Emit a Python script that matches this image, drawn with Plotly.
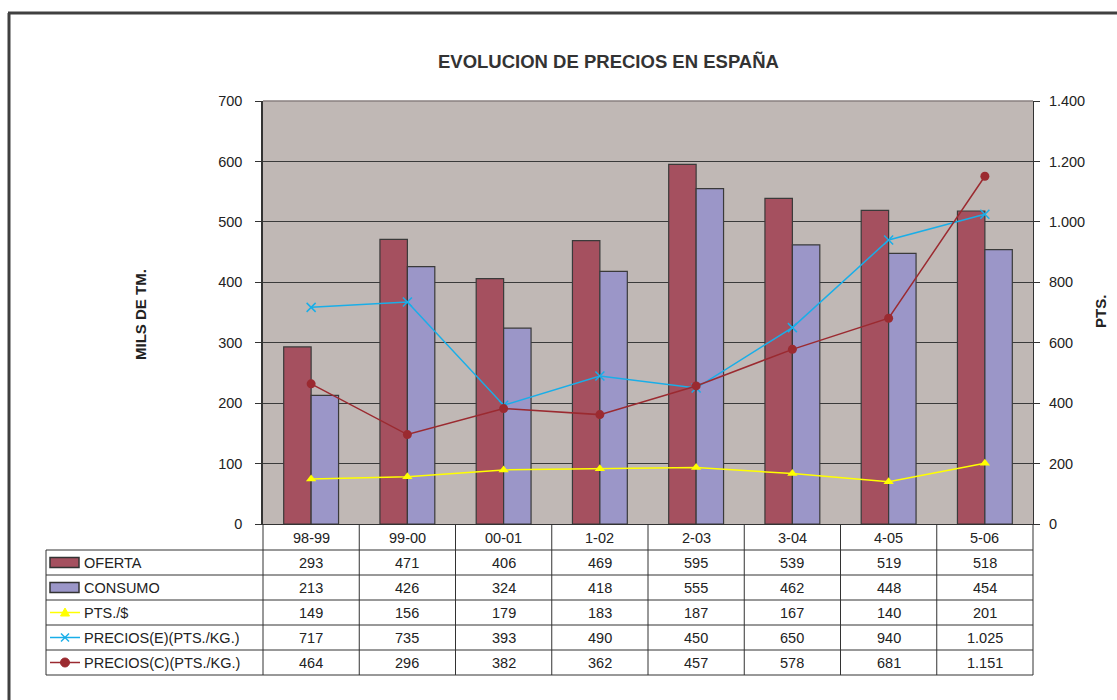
import plotly.graph_objects as go

# ---- data ----
categories = ["98-99", "99-00", "00-01", "1-02", "2-03", "3-04", "4-05", "5-06"]
oferta = [293, 471, 406, 469, 595, 539, 519, 518]
consumo = [213, 426, 324, 418, 555, 462, 448, 454]
pts_dolar = [149, 156, 179, 183, 187, 167, 140, 201]
precios_e = [717, 735, 393, 490, 450, 650, 940, 1025]
precios_c = [464, 296, 382, 362, 457, 578, 681, 1151]

left_ticks = [0, 100, 200, 300, 400, 500, 600, 700]
right_ticks = [0, 200, 400, 600, 800, 1000, 1200, 1400]

series_names = ["OFERTA", "CONSUMO", "PTS./$", "PRECIOS(E)(PTS./KG.)", "PRECIOS(C)(PTS./KG.)"]


def fmt_es(v):
    return f"{v:,}".replace(",", ".")


# ---- styling / geometry ----
W, H = 1117, 700
PL, PR, PT, PB = 263, 1033, 101, 524  # plot area in px
C_OF = "#A5505F"
C_CO = "#9B96C8"
C_PTS = "#FFFF00"
C_PE = "#19AEE8"
C_PC = "#9B2A30"
BG = "#C0B8B5"
FONT = "Liberation Sans, Arial, sans-serif"
TXT = "#222222"
TS = 14.5


def px_x(px):
    return (px - PL) / (PR - PL)


def px_y(py):
    return (PB - py) / (PB - PT)


fig = go.Figure()

fig.add_trace(go.Bar(x=categories, y=oferta, name="OFERTA", marker=dict(color=C_OF, line=dict(color="#3a3a3a", width=1.2))))
fig.add_trace(go.Bar(x=categories, y=consumo, name="CONSUMO", marker=dict(color=C_CO, line=dict(color="#3a3a3a", width=1.2))))

fig.add_trace(go.Scatter(x=categories, y=pts_dolar, yaxis="y2", mode="lines+markers", name="PTS./$",
                         line=dict(color=C_PTS, width=1.5), marker=dict(symbol="triangle-up", size=9, color=C_PTS)))
fig.add_trace(go.Scatter(x=categories, y=precios_e, yaxis="y2", mode="lines+markers", name="PRECIOS(E)(PTS./KG.)",
                         line=dict(color=C_PE, width=1.5),
                         marker=dict(symbol="x-thin", size=9, line=dict(color=C_PE, width=1.5))))
fig.add_trace(go.Scatter(x=categories, y=precios_c, yaxis="y2", mode="lines+markers", name="PRECIOS(C)(PTS./KG.)",
                         line=dict(color=C_PC, width=1.5), marker=dict(symbol="circle", size=9, color=C_PC)))

shapes = []
annotations = []

# ---- data table ----
row_tops = [550, 575, 600, 625, 650]
row_h = 25
table_bottom = 675
n = len(categories)

for yy in row_tops + [table_bottom]:
    shapes.append(dict(type="line", xref="paper", yref="paper", x0=px_x(46), x1=1, y0=px_y(yy), y1=px_y(yy),
                       line=dict(color="#333333", width=1)))
for i in range(n + 1):
    shapes.append(dict(type="line", xref="paper", yref="paper", x0=i / n, x1=i / n, y0=0, y1=px_y(table_bottom),
                       line=dict(color="#333333", width=1)))
shapes.append(dict(type="line", xref="paper", yref="paper", x0=px_x(46), x1=px_x(46), y0=px_y(550), y1=px_y(table_bottom),
                   line=dict(color="#333333", width=1)))

ann_common = dict(showarrow=False, xanchor="center", yanchor="middle")

for c in categories:
    annotations.append(dict(x=c, xref="x", y=px_y(537.5), yref="paper", text=c,
                            font=dict(size=TS, color=TXT, family=FONT), **ann_common))

rows = [oferta, consumo, pts_dolar, precios_e, precios_c]
for r, vals in enumerate(rows):
    yc = px_y(row_tops[r] + row_h / 2 + 0.5)
    for c, v in zip(categories, vals):
        annotations.append(dict(x=c, xref="x", y=yc, yref="paper", text=fmt_es(v),
                                font=dict(size=TS, color=TXT, family=FONT), **ann_common))
    annotations.append(dict(x=px_x(82), xref="paper", y=yc, yref="paper", text=series_names[r], showarrow=False,
                            xanchor="left", yanchor="middle", font=dict(size=TS, color=TXT, family=FONT)))

# legend keys: bar rectangles
for r, col in enumerate([C_OF, C_CO]):
    yc = row_tops[r] + row_h / 2
    shapes.append(dict(type="rect", xref="paper", yref="paper", x0=px_x(50), x1=px_x(79),
                       y0=px_y(yc - 5), y1=px_y(yc + 5), fillcolor=col, line=dict(color="#333333", width=1.5)))
# legend keys: lines
for r, col in zip([2, 3, 4], [C_PTS, C_PE, C_PC]):
    yc = row_tops[r] + row_h / 2
    shapes.append(dict(type="line", xref="paper", yref="paper", x0=px_x(50), x1=px_x(80),
                       y0=px_y(yc), y1=px_y(yc), line=dict(color=col, width=1.5)))

# legend key markers drawn as shapes
kx = 65
yc = row_tops[2] + row_h / 2
shapes.append(dict(type="path", xref="paper", yref="paper",
                   path=f"M {px_x(kx - 4.5)} {px_y(yc + 3.5)} L {px_x(kx + 4.5)} {px_y(yc + 3.5)} L {px_x(kx)} {px_y(yc - 4.5)} Z",
                   fillcolor=C_PTS, line=dict(color=C_PTS, width=1)))
yc = row_tops[3] + row_h / 2
for dx in (-1, 1):
    shapes.append(dict(type="line", xref="paper", yref="paper", x0=px_x(kx - 4 * dx), x1=px_x(kx + 4 * dx),
                       y0=px_y(yc - 4), y1=px_y(yc + 4), line=dict(color=C_PE, width=1.5)))
yc = row_tops[4] + row_h / 2
shapes.append(dict(type="circle", xref="paper", yref="paper", x0=px_x(kx - 4.5), x1=px_x(kx + 4.5),
                   y0=px_y(yc + 4.5), y1=px_y(yc - 4.5), fillcolor=C_PC, line=dict(color=C_PC, width=1)))

# outer frame (left & top visible)
shapes.append(dict(type="line", xref="paper", yref="paper", x0=px_x(9), x1=px_x(9), y0=px_y(13), y1=px_y(H + 5),
                   line=dict(color="#404040", width=3)))
shapes.append(dict(type="line", xref="paper", yref="paper", x0=px_x(8), x1=px_x(W + 5), y0=px_y(13), y1=px_y(13),
                   line=dict(color="#404040", width=3)))
# top border of plot area
shapes.append(dict(type="line", xref="paper", yref="paper", x0=0, x1=1, y0=1, y1=1, line=dict(color="#8a8080", width=1.5)))

# axis titles
annotations.append(dict(x=px_x(140), xref="paper", y=px_y(315), yref="paper", text="<b>MILS DE TM.</b>",
                        textangle=-90, font=dict(size=15, color=TXT, family=FONT), **ann_common))
annotations.append(dict(x=px_x(1100), xref="paper", y=px_y(312), yref="paper", text="<b>PTS.</b>",
                        textangle=-90, font=dict(size=15, color=TXT, family=FONT), **ann_common))
# title
annotations.append(dict(x=px_x(608), xref="paper", y=px_y(61), yref="paper",
                        text="<b>EVOLUCION DE PRECIOS EN ESPAÑA</b>",
                        font=dict(size=18.5, color="#333333", family=FONT), **ann_common))

fig.update_layout(
    width=W, height=H,
    margin=dict(l=PL, r=W - PR, t=PT, b=H - PB, pad=0),
    paper_bgcolor="white", plot_bgcolor=BG,
    barmode="group", bargap=0.43, bargroupgap=0,
    showlegend=False,
    font=dict(family=FONT, size=14, color=TXT),
    xaxis=dict(type="category", categoryorder="array", categoryarray=categories, range=[-0.5, n - 0.5],
               showticklabels=False, ticks="", showgrid=False, showline=True, linecolor="#333333", linewidth=1,
               zeroline=False),
    yaxis=dict(range=[0, 700], tickvals=left_ticks, ticktext=[str(v) for v in left_ticks],
               showgrid=True, gridcolor="#3a3a3a", gridwidth=1, zeroline=False,
               showline=True, linecolor="#333333", linewidth=1.5, ticks="outside", ticklen=6, tickcolor="#333333",
               tickfont=dict(size=TS, color=TXT), ticklabelstandoff=10),
    yaxis2=dict(range=[0, 1400], overlaying="y", side="right", tickvals=right_ticks,
                ticktext=[fmt_es(v) for v in right_ticks], showgrid=False, zeroline=False,
                showline=True, linecolor="#333333", linewidth=1, ticks="outside", ticklen=6, tickcolor="#333333",
                tickfont=dict(size=TS, color=TXT), ticklabelstandoff=6),
    shapes=shapes,
    annotations=annotations,
)

fig.write_html("out.html", config={"displayModeBar": False},
               post_script="document.body.style.margin='0';document.body.style.overflow='hidden';")
